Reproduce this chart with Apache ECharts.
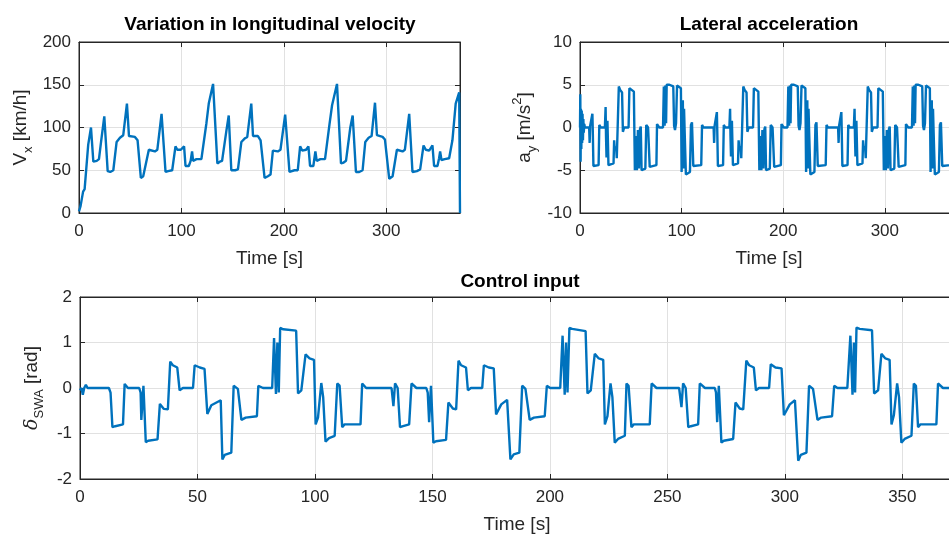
<!DOCTYPE html>
<html>
<head>
<meta charset="utf-8">
<script src="https://cdn.jsdelivr.net/npm/echarts@6/dist/echarts.min.js"></script>
<style>
html,body{margin:0;padding:0;background:#fff;overflow:hidden;}
#chart{width:980px;height:536px;}
</style>
</head>
<body>
<div id="chart"></div>
<script>
// ---------- Data ----------
const titles = ['Variation in longitudinal velocity', 'Lateral acceleration', 'Control input'];
const xTicksTop = [0, 100, 200, 300];
const xTicksBottom = [0, 50, 100, 150, 200, 250, 300, 350];
const tEnd = 372;

// Longitudinal velocity [km/h]
const velTime = [0,1.5,4,5.5,9,11.7,14,17.3,19.5,21.5,24.7,28,30.5,33.5,36.7,40,43.2,46.8,48.8,54.6,57.2,60.4,62.7,64.5,68.2,74.1,76.5,80.6,84.5,87,91,94.2,96,99.4,102.6,104,107.2,109,110.4,111.4,114.7,119.5,124.4,126.7,130.9,135.1,137.5,139.7,144,146.2,148.7,152.5,155.2,158.5,161.7,164.3,168.2,169.9,174.7,177.3,181.2,184.4,187,189.3,194.1,196.7,201.3,205.5,210.4,213.6,215.9,217.9,221.7,224,225.6,228.8,230.8,232.1,235.7,240.2,244.5,247.1,251.9,255.8,258.4,260.7,264.9,267.2,270.4,273.6,276.9,279.5,282.8,285.7,289,290.9,296.4,298.7,302.9,306.2,310.4,315.9,318.2,322.4,325.6,329.9,333.1,336.4,338.6,341.9,345.1,346.7,350,351.6,352.6,353.9,357.1,361.4,364.6,367.8,371.2,371.8,372];
const velKmh = [2,8,25,28,80,100,60,61,63,83,113,49,48,50,83,88,91,128,90,89,85,41,43,45,74,72,74,116,48,49,50,78,74,74,78,55,55,61,72,61,63,63,105,128,151,58,60,61,97,114,50,50,51,83,87,89,128,90,90,85,41,43,45,73,72,74,115,48,50,50,78,73,74,78,55,55,72,61,63,63,103,126,151,58,59,61,100,114,48,48,50,83,88,90,129,91,89,86,40,43,74,72,74,116,48,49,51,79,74,73,79,55,55,64,72,62,63,64,85,128,141,141,0];

// Lateral acceleration [m/s^2]
const ayTime = [0,0.3,0.6,0.9,1.3,1.7,2.1,2.5,2.9,3.3,3.7,4.2,4.8,
9,9.5,10,11.5,12.2,12.6,13.2,14,18.3,19,19.5,20.5,24.5,25.2,25.6,26.1,26.6,27,28,29,33,33.6,34.2,35.5,36.2,37.3,38.2,39.5,41.4,42.2,43.5,47.8,48.6,50,53,54,55,56,57,58,59,59.8,60.6,64.3,65.2,66,67,68.6,70,75.2,75.8,77,78,81.7,82.5,83.3,84,84.7,85.3,88,91.8,92.6,93.5,94.5,95.5,96.5,99.3,100,100.6,101.2,101.8,102.4,103,104.2,106,108.2,109.2,110.2,111.5,113,119.3,120.1,121.5,
131.5,132,132.5,134,134.7,135.1,135.7,136.5,140.8,141.5,142,143,147,147.7,148.1,148.6,149.1,149.5,150.5,151.5,155.5,156.1,156.7,158,158.7,159.8,160.7,162,163.9,164.7,166,170.3,171.1,172.5,175.5,176.5,177.5,178.5,179.5,180.5,181.5,182.3,183.1,186.8,187.7,188.5,189.5,191.1,192.5,197.7,198.3,199.5,200.5,204.2,205,205.8,206.5,207.2,207.8,210.5,214.3,215.1,216,217,218,219,221.8,222.5,223.1,223.7,224.3,224.9,225.5,226.7,228.5,230.7,231.7,232.7,234,235.5,241.8,242.6,244,
254,254.5,255,256.5,257.2,257.6,258.2,259,263.3,264,264.5,265.5,269.5,270.2,270.6,271.1,271.6,272,273,274,278,278.6,279.2,280.5,281.2,282.3,283.2,284.5,286.4,287.2,288.5,292.8,293.6,295,298,299,300,301,302,303,304,304.8,305.6,309.3,310.2,311,312,313.6,315,320.2,320.8,322,323,326.7,327.5,328.3,329,329.7,330.3,333,336.8,337.6,338.5,339.5,340.5,341.5,344.3,345,345.6,346.2,346.8,347.4,348,349.2,351,353.2,354.2,355.2,356.5,358,364.3,365.1,366.5,372];
const ayVal = [0,3.9,-4.0,2.2,-2.5,2.0,-1.8,1.6,-1.5,1.0,-0.6,0.4,0,
0,-1.8,0.2,0.3,1.6,-0.5,-4.5,-4.5,-4.4,0.3,0.5,0,0,2.4,-1.0,-3.5,-0.5,0.8,-4.4,-4.3,-4.2,-1.5,-2.6,-2.2,-3.6,-3.5,4.8,4.4,4.1,-0.5,0,0,4.6,4.4,4.2,-5.0,-1.0,-5.0,-0.3,-4.8,-0.2,0.1,-5.0,-4.8,0.3,0.5,0,-4.6,-4.5,-4.4,0.4,0.6,0,0,4.8,0.2,4.9,0.5,5.0,5.0,4.8,0.2,-0.3,0.5,4.9,4.8,4.6,-5.2,-1.0,3.2,-4.8,2.2,-0.5,-5.5,-5.3,-5.2,0.3,0.6,-4.5,-4.4,-4.4,0.3,0,
0,-1.8,0.2,0.3,1.8,-0.5,-4.5,-4.5,-4.4,0.3,0.5,0,0,2.2,-1.0,-3.4,-0.5,0.8,-4.4,-4.3,-4.2,-1.5,-2.5,-2.2,-3.6,-3.5,4.8,4.4,4.1,-0.5,0,0,4.6,4.4,4.2,-5.0,-1.0,-5.0,-0.3,-4.8,-0.2,0.1,-5.0,-4.8,0.3,0.5,0,-4.6,-4.5,-4.4,0.4,0.6,0,0,4.8,0.2,4.9,0.5,5.0,5.0,4.8,0.2,-0.3,0.5,4.9,4.8,4.6,-5.2,-1.0,3.2,-4.8,2.2,-0.5,-5.5,-5.3,-5.2,0.3,0.6,-4.5,-4.4,-4.4,0.3,0,
0,-1.8,0.2,0.3,1.8,-0.5,-4.5,-4.5,-4.4,0.3,0.5,0,0,2.2,-1.0,-3.4,-0.5,0.8,-4.4,-4.3,-4.2,-1.5,-2.5,-2.2,-3.6,-3.5,4.8,4.4,4.1,-0.5,0,0,4.6,4.4,4.2,-5.0,-1.0,-5.0,-0.3,-4.8,-0.2,0.1,-5.0,-4.8,0.3,0.5,0,-4.6,-4.5,-4.4,0.4,0.6,0,0,4.8,0.2,4.9,0.5,5.0,5.0,4.8,0.2,-0.3,0.5,4.9,4.8,4.6,-5.2,-1.0,3.2,-4.8,2.2,-0.5,-5.5,-5.3,-5.2,0.3,0.6,-4.5,-4.4,-4.4,0.3,0,0];

// Steering wheel angle [rad]
const swaTime = [0,0.6,1.2,1.8,2.5,3.2,12.3,13,13.8,15,18.3,19,20.4,25.2,25.8,26.1,26.6,27,28,29,33,34,35.7,37.4,38.4,39.5,41.4,42.4,43.8,48.1,48.8,51,53,54.2,55.9,59.9,60.6,61.6,64.4,65.4,67.2,68.7,70.5,75.3,75.9,77.9,81.8,82.6,83.4,84,84.6,85.2,86.5,92,92.8,94.2,96,97.7,99.6,100.3,101.3,102.7,103.5,104.5,106,108.4,109.5,110.5,111.6,112.6,119.4,120.1,121.8,
132.6,133.4,134.1,135.2,136.2,137.5,140.1,141.1,143.2,147.4,148,148.6,149,149.4,150.4,151.5,155.8,156.8,158.7,160.1,161.1,162.2,164.3,165.1,166.4,171.2,171.9,174,176.1,177.1,179.3,181.8,183.2,184.6,187,188.2,189.6,191.4,193.2,197.8,198.7,200.1,204.4,205.4,206.3,206.9,207.5,208.3,209.5,215.2,216,217.4,219.1,220.8,222.7,223.4,224.5,225.8,226.6,227.6,229,231.9,232.6,233.5,234.7,235.7,242.5,243.3,245.4,
255,256,256.7,257.8,258.9,260,263.1,263.8,266,270.2,270.7,271.2,271.6,271.9,273,274,278,279,280.8,282.3,283.6,284.8,286.8,287.7,289,293.3,294,296,298.6,299.6,302.1,304.3,305.7,306.8,309.2,310.3,312,313.9,315.5,320.1,321,322.4,326.6,327.9,328.8,329.4,329.9,330.5,331.8,337.1,338,339.7,341.1,342.8,344.6,345.4,346.4,347.8,348.6,349.6,351,353.9,354.9,355.8,356.7,357.7,364.5,365.2,367.3,372];
const swaRad = [-0.05,0,-0.15,0,0.07,0,0,-0.1,-0.86,-0.84,-0.8,0.09,0,0,-0.1,-0.7,-0.3,0.05,-1.19,-1.16,-1.13,-0.35,-0.46,-0.47,0.58,0.5,0.45,-0.05,0,0,0.5,0.45,0.42,-0.57,-0.38,-0.27,-1.57,-1.47,-1.42,0.05,-0.02,-0.7,-0.65,-0.62,0.05,0,0,1.1,-0.13,1.0,-0.1,1.32,1.29,1.26,-0.12,-0.05,0.74,0.65,0.62,-0.8,-0.65,0.11,-0.2,-1.18,-1.1,-1.05,0.1,0.05,-0.86,-0.8,-0.8,0.1,0,
0,-0.4,0.1,0,-0.86,-0.84,-0.8,0.1,0,0,-0.1,-0.75,-0.3,0.05,-1.2,-1.17,-1.14,-0.32,-0.45,-0.47,0.6,0.5,0.45,-0.05,0,0,0.5,0.45,0.43,-0.58,-0.36,-0.26,-1.57,-1.46,-1.42,0.05,-0.02,-0.7,-0.65,-0.62,0.05,0,0,1.15,-0.15,1.0,-0.1,1.32,1.3,1.25,-0.12,-0.05,0.75,0.65,0.62,-0.8,-0.62,0.1,-0.2,-1.2,-1.12,-1.05,0.1,0.05,-0.86,-0.8,-0.8,0.1,0,
0,-0.42,0.1,0,-0.86,-0.84,-0.8,0.1,0,0,-0.1,-0.75,-0.3,0.05,-1.2,-1.16,-1.12,-0.32,-0.45,-0.47,0.6,0.5,0.45,-0.05,0,0,0.52,0.45,0.43,-0.6,-0.36,-0.27,-1.6,-1.47,-1.42,0.05,-0.02,-0.7,-0.65,-0.62,0.05,0,0,1.15,-0.15,1.0,-0.1,1.33,1.3,1.27,-0.12,-0.05,0.75,0.65,0.62,-0.8,-0.6,0.1,-0.2,-1.2,-1.12,-1.05,0.1,0.05,-0.86,-0.8,-0.8,0.1,0,0];

// ---------- Chart ----------
const FONT = '"Liberation Sans", Arial, Helvetica, sans-serif';
const DARK = '#262626';
const GRIDC = '#e1e1e1';
const LINEC = '#0072BD';
const zip = (a, b) => a.map((t, i) => [t, b[i]]);

const grids = [
  {left: 79, top: 42, width: 381, height: 171},
  {left: 580, top: 42, width: 378, height: 171},
  {left: 80, top: 297, width: 874, height: 182}
];

function xAxisPair(gi, interval, ticks, showName) {
  const main = {
    type: 'value', gridIndex: gi, min: 0, max: tEnd, interval: interval, position: 'bottom',
    axisLine: {show: true, onZero: false, lineStyle: {color: DARK, width: 1}},
    axisTick: {show: true, inside: true, length: 5, lineStyle: {color: DARK}},
    axisLabel: {show: true, margin: 10, color: DARK, fontSize: 17, fontFamily: FONT,
      formatter: v => (ticks.indexOf(v) >= 0 ? String(v) : ''), showMaxLabel: false},
    splitLine: {show: true, lineStyle: {color: GRIDC, width: 1}},
    name: showName ? 'Time [s]' : '', nameLocation: 'middle', nameGap: 36,
    nameTextStyle: {color: DARK, fontSize: 19, fontFamily: FONT}
  };
  const top = {
    type: 'value', gridIndex: gi, min: 0, max: tEnd, interval: interval, position: 'top',
    axisLine: {show: true, onZero: false, lineStyle: {color: DARK, width: 1}},
    axisTick: {show: true, inside: true, length: 5, lineStyle: {color: DARK}},
    axisLabel: {show: false}, splitLine: {show: false}
  };
  return [main, top];
}

function yAxisPair(gi, min, max, interval, name, gap, rich) {
  const main = {
    type: 'value', gridIndex: gi, min: min, max: max, interval: interval, position: 'left',
    axisLine: {show: true, onZero: false, lineStyle: {color: DARK, width: 1}},
    axisTick: {show: true, inside: true, length: 5, lineStyle: {color: DARK}},
    axisLabel: {show: true, margin: 8, color: DARK, fontSize: 17, fontFamily: FONT},
    splitLine: {show: true, lineStyle: {color: GRIDC, width: 1}},
    name: name, nameLocation: 'middle', nameRotate: 90, nameGap: gap,
    nameTextStyle: {color: DARK, fontSize: 19, fontFamily: FONT, rich: rich}
  };
  const right = {
    type: 'value', gridIndex: gi, min: min, max: max, interval: interval, position: 'right',
    axisLine: {show: true, onZero: false, lineStyle: {color: DARK, width: 1}},
    axisTick: {show: true, inside: true, length: 5, lineStyle: {color: DARK}},
    axisLabel: {show: false}, splitLine: {show: false}
  };
  return [main, right];
}

const richBase = {
  a: {fontSize: 19, fontFamily: FONT, color: DARK, lineHeight: 28, verticalAlign: 'middle'},
  s: {fontSize: 13, fontFamily: FONT, color: DARK, lineHeight: 14, verticalAlign: 'bottom'},
  p: {fontSize: 13, fontFamily: FONT, color: DARK, lineHeight: 14, verticalAlign: 'top'},
  g: {fontSize: 19, fontFamily: '"DejaVu Serif", serif', fontStyle: 'italic', color: DARK, lineHeight: 28, verticalAlign: 'middle'}
};

const xAxes = [].concat(
  xAxisPair(0, 100, xTicksTop, true),
  xAxisPair(1, 100, xTicksTop, true),
  xAxisPair(2, 50, xTicksBottom, true)
);
const yAxes = [].concat(
  yAxisPair(0, 0, 200, 50, '{a|V}{s|x}{a| [km/h]}', 44, richBase),
  yAxisPair(1, -10, 10, 5, '{a|a}{s|y}{a| [m/s}{p|2}{a|]}', 41, richBase),
  yAxisPair(2, -2, 2, 1, '{g|δ}{s|SWA}{a| [rad]}', 29, richBase)
);

function lineSeries(xi, yi, data) {
  return {
    type: 'line', xAxisIndex: xi, yAxisIndex: yi, data: data,
    showSymbol: false, symbol: 'none', clip: true,
    lineStyle: {color: LINEC, width: 2.4}, itemStyle: {color: LINEC},
    animation: false
  };
}

const titleCenters = [[270, 25], [769, 25], [520, 282]];
const graphics = titles.map((t, i) => ({
  type: 'text', x: titleCenters[i][0], y: titleCenters[i][1], silent: true,
  style: {text: t, font: 'bold 19px ' + FONT, fill: '#000',
    align: 'center', verticalAlign: 'middle', textAlign: 'center', textVerticalAlign: 'middle'}
}));

const chart = echarts.init(document.getElementById('chart'), null, {renderer: 'canvas'});
chart.setOption({
  animation: false,
  backgroundColor: '#ffffff',
  grid: grids.map(g => Object.assign({show: true, borderColor: DARK, borderWidth: 1, backgroundColor: '#fff', containLabel: false}, g)),
  xAxis: xAxes,
  yAxis: yAxes,
  graphic: graphics,
  series: [
    lineSeries(0, 0, zip(velTime, velKmh)),
    lineSeries(2, 2, zip(ayTime, ayVal)),
    lineSeries(4, 4, zip(swaTime, swaRad))
  ]
});
</script>
</body>
</html>
